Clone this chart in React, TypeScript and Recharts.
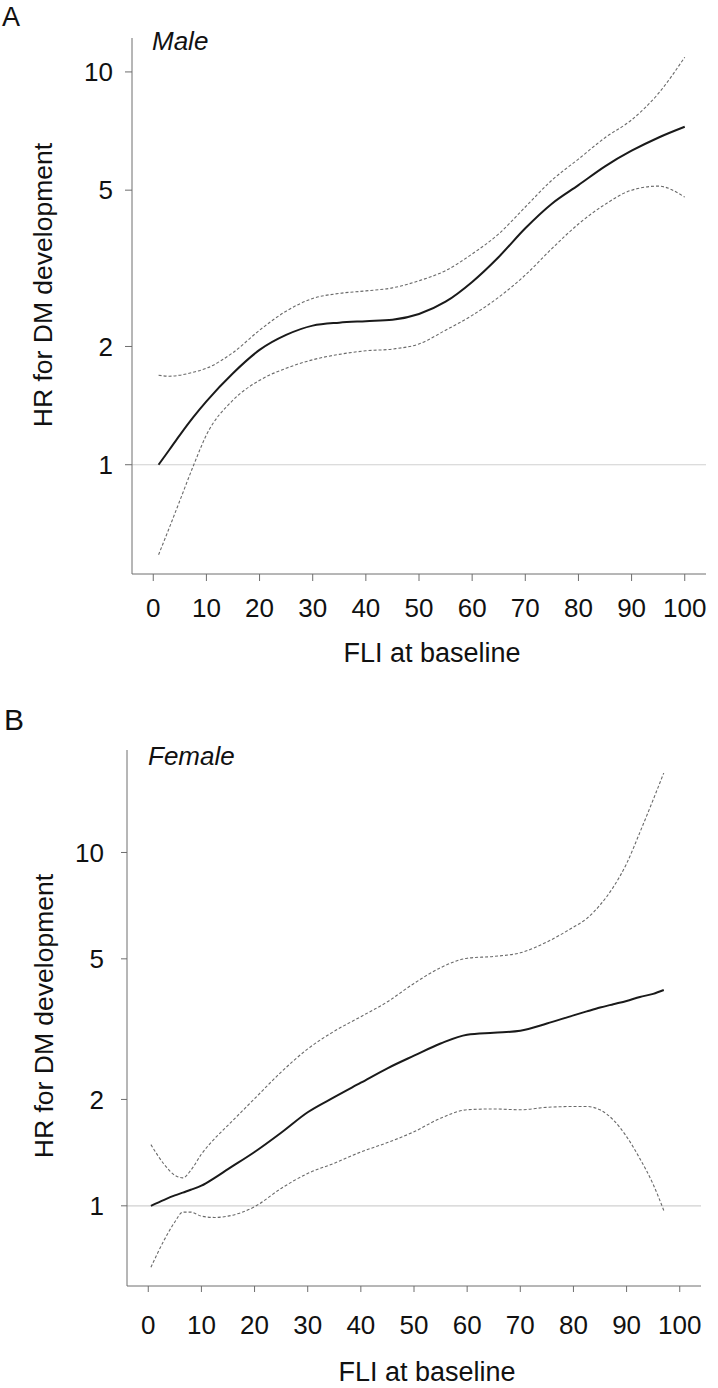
import { Line, LineChart, ReferenceLine, XAxis, YAxis } from "recharts";

// FLI ticks and HR ticks shared by both panels
const fliTicks = [0, 10, 20, 30, 40, 50, 60, 70, 80, 90, 100];
const hrTicks = [1, 2, 5, 10];

// Panel A - male
const fliMale = [1, 3, 5, 7.5, 10, 15, 20, 25, 30, 35, 40, 45, 50, 55, 60, 65, 70, 75, 80, 85, 90, 95, 100];
const hrMale = [1.0, 1.09, 1.19, 1.32, 1.45, 1.71, 1.96, 2.14, 2.26, 2.3, 2.32, 2.34, 2.42, 2.6, 2.92, 3.38, 4.0, 4.62, 5.15, 5.75, 6.3, 6.8, 7.25];
const upperMale = [1.69, 1.68, 1.69, 1.72, 1.76, 1.93, 2.2, 2.46, 2.65, 2.73, 2.77, 2.82, 2.94, 3.12, 3.44, 3.87, 4.53, 5.3, 6.0, 6.8, 7.55, 8.8, 10.9];
const lowerMale = [0.59, 0.69, 0.81, 0.99, 1.19, 1.46, 1.64, 1.76, 1.85, 1.91, 1.95, 1.97, 2.03, 2.2, 2.4, 2.67, 3.04, 3.55, 4.1, 4.6, 5.0, 5.12, 4.8];

// Panel B - female
const fliFemale = [0.5, 3, 5, 6.5, 8, 10, 12.5, 15, 20, 25, 30, 35, 40, 45, 50, 55, 60, 65, 70, 75, 80, 82.5, 85, 87.5, 90, 92.5, 95, 97];
const hrFemale = [1.0, 1.04, 1.07, 1.09, 1.11, 1.14, 1.2, 1.27, 1.42, 1.61, 1.84, 2.03, 2.23, 2.45, 2.66, 2.88, 3.05, 3.09, 3.13, 3.28, 3.46, 3.55, 3.64, 3.72, 3.8, 3.9, 3.98, 4.08];
const upperFemale = [1.49, 1.31, 1.22, 1.2, 1.26, 1.4, 1.55, 1.69, 2.01, 2.39, 2.78, 3.12, 3.43, 3.78, 4.26, 4.72, 5.02, 5.08, 5.2, 5.58, 6.15, 6.5, 7.1, 7.98, 9.3, 11.4, 14.1, 16.8];
const lowerFemale = [0.67, 0.8, 0.9, 0.96, 0.96, 0.935, 0.927, 0.935, 0.994, 1.12, 1.235, 1.32, 1.42, 1.51, 1.62, 1.77, 1.87, 1.88, 1.87, 1.9, 1.91, 1.91, 1.87, 1.75, 1.57, 1.36, 1.15, 0.97];

const font = "'Liberation Sans', Arial, sans-serif";
const axisColor = "#6e6e6e";

function toRows(xs: number[], fit: number[], upper: number[], lower: number[]) {
  return xs.map((x, i) => ({ x, fit: fit[i], upper: upper[i], lower: lower[i] }));
}

type PanelProps = {
  data: { x: number; fit: number; upper: number; lower: number }[];
  top: number;
  height: number;
  marginTop: number;
  marginRight: number;
  yWidth: number;
  xHeight: number;
  yDomain: [number, number];
  tickSize: number;
  xTickMargin: number;
  yTickMargin: number;
};

function Panel(p: PanelProps) {
  const tick = { fontSize: 26, fill: "#111", fontFamily: font };
  return (
    <div style={{ position: "absolute", left: 0, top: p.top }}>
      <LineChart
        width={718}
        height={p.height}
        data={p.data}
        margin={{ top: p.marginTop, right: p.marginRight, left: 0, bottom: 0 }}
      >
        <XAxis
          dataKey="x"
          type="number"
          domain={[-4, 104]}
          ticks={fliTicks}
          interval={0}
          height={p.xHeight}
          stroke={axisColor}
          tickSize={p.tickSize}
          tickMargin={p.xTickMargin}
          tick={tick}
          allowDataOverflow
        />
        <YAxis
          type="number"
          scale="log"
          domain={p.yDomain}
          ticks={hrTicks}
          interval={0}
          width={p.yWidth}
          stroke={axisColor}
          tickSize={p.tickSize}
          tickMargin={p.yTickMargin}
          tick={tick}
          allowDataOverflow
        />
        <ReferenceLine y={1} stroke="#d0d0d0" strokeWidth={1.2} />
        <Line type="monotone" dataKey="upper" stroke="#6a6a6a" strokeWidth={1.1} strokeDasharray="3 2" dot={false} isAnimationActive={false} />
        <Line type="monotone" dataKey="lower" stroke="#6a6a6a" strokeWidth={1.1} strokeDasharray="3 2" dot={false} isAnimationActive={false} />
        <Line type="monotone" dataKey="fit" stroke="#1a1a1a" strokeWidth={2} dot={false} isAnimationActive={false} />
      </LineChart>
    </div>
  );
}

export default function App() {
  return (
    <div style={{ position: "absolute", left: 0, top: 0, width: 718, height: 1388, background: "#fff" }}>
      <Panel
        data={toRows(fliMale, hrMale, upperMale, lowerMale)}
        top={0}
        height={640}
        marginTop={38}
        marginRight={12}
        yWidth={132}
        xHeight={66}
        yDomain={[0.527, 12.2]}
        tickSize={7}
        xTickMargin={18}
        yTickMargin={12}
      />
      <Panel
        data={toRows(fliFemale, hrFemale, upperFemale, lowerFemale)}
        top={700}
        height={660}
        marginTop={50}
        marginRight={17}
        yWidth={127}
        xHeight={74}
        yDomain={[0.593, 19.5]}
        tickSize={6}
        xTickMargin={24}
        yTickMargin={17}
      />
      <svg
        width={718}
        height={1388}
        style={{ position: "absolute", left: 0, top: 0, pointerEvents: "none" }}
        fontFamily={font}
        fill="#111"
      >
        <text x={2} y={26} fontSize={27}>A</text>
        <text x={152} y={50} fontSize={26} fontStyle="italic">Male</text>
        <text transform="translate(52,285) rotate(-90)" textAnchor="middle" fontSize={26.5}>HR for DM development</text>
        <text x={432} y={662} textAnchor="middle" fontSize={27}>FLI at baseline</text>

        <text x={4} y={730} fontSize={30}>B</text>
        <text x={148} y={765} fontSize={26} fontStyle="italic">Female</text>
        <text transform="translate(53,1016) rotate(-90)" textAnchor="middle" fontSize={26.5}>HR for DM development</text>
        <text x={427} y={1381} textAnchor="middle" fontSize={27}>FLI at baseline</text>
      </svg>
    </div>
  );
}
